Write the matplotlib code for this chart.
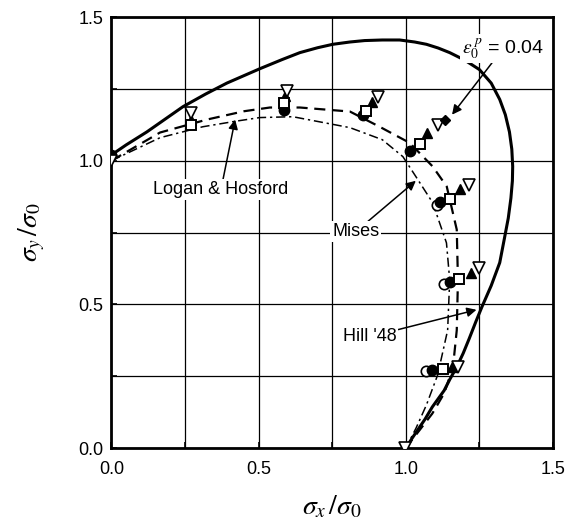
import matplotlib
matplotlib.use("Agg")
import matplotlib.pyplot as plt
from matplotlib.ticker import MultipleLocator

plt.rcParams['font.family'] = ['Liberation Sans', 'DejaVu Sans']
plt.rcParams['mathtext.fontset'] = 'stix'

# Yield loci (sigma_x/sigma_0, sigma_y/sigma_0)
hill_x = [0.0, 0.05, 0.12, 0.243, 0.32, 0.392, 0.504, 0.58, 0.64, 0.70, 0.752, 0.81,
          0.86, 0.92, 0.979, 1.03, 1.07, 1.11, 1.149, 1.20, 1.25, 1.29, 1.319, 1.338,
          1.352, 1.36, 1.363, 1.362, 1.357, 1.348, 1.335, 1.319, 1.29, 1.258, 1.238,
          1.215, 1.195, 1.173, 1.15, 1.13, 1.09, 1.065, 1.045, 1.02, 1.0]
hill_y = [1.02, 1.055, 1.10, 1.188, 1.232, 1.27, 1.32, 1.352, 1.376, 1.393, 1.405, 1.413,
          1.418, 1.42, 1.42, 1.413, 1.405, 1.392, 1.376, 1.35, 1.317, 1.27, 1.213, 1.16,
          1.10, 1.04, 0.98, 0.93, 0.87, 0.80, 0.73, 0.645, 0.565, 0.49, 0.44,
          0.38, 0.33, 0.282, 0.24, 0.20, 0.143, 0.10, 0.07, 0.032, 0.0]

mises_x = [0.0, 0.165, 0.324, 0.45, 0.538, 0.64, 0.81, 0.911, 1.013, 1.091, 1.139,
           1.173, 1.177, 1.173, 1.16, 1.13, 1.09, 1.045, 1.0]
mises_y = [1.0, 1.098, 1.143, 1.172, 1.185, 1.185, 1.171, 1.118, 1.062, 0.98, 0.91,
           0.76, 0.585, 0.41, 0.28, 0.19, 0.12, 0.06, 0.0]

lh_x = [0.0, 0.165, 0.31, 0.42, 0.504, 0.616, 0.81, 0.92, 0.99, 1.037, 1.091, 1.138,
        1.149, 1.142, 1.108, 1.07, 1.035, 1.0]
lh_y = [1.0, 1.08, 1.118, 1.137, 1.15, 1.153, 1.115, 1.073, 1.014, 0.94, 0.854, 0.714,
        0.585, 0.41, 0.254, 0.15, 0.07, 0.0]

# Measured yield points
open_circle_x = [1.105, 1.129, 1.07]
open_circle_y = [0.847, 0.571, 0.268]

filled_circle_x = [0.0, 0.585, 0.854, 1.013, 1.115, 1.149, 1.09]
filled_circle_y = [1.02, 1.178, 1.16, 1.035, 0.857, 0.578, 0.27]

square_x = [0.27, 0.586, 0.864, 1.047, 1.149, 1.18, 1.125]
square_y = [1.125, 1.20, 1.174, 1.059, 0.868, 0.589, 0.275]

tri_up_x = [0.27, 0.59, 0.885, 1.071, 1.183, 1.22, 1.156]
tri_up_y = [1.143, 1.226, 1.205, 1.098, 0.902, 0.61, 0.282]

tri_down_x = [0.0, 0.27, 0.596, 0.905, 1.108, 1.214, 1.25, 1.176, 0.996]
tri_down_y = [1.0, 1.167, 1.244, 1.22, 1.125, 0.916, 0.627, 0.282, 0.0]

diamond_x = [1.132]
diamond_y = [1.143]

tick_vals = [0.0, 0.5, 1.0, 1.5]
tick_text = ['0.0', '0.5', '1.0', '1.5']

fig = plt.figure(figsize=(5.70, 5.28), dpi=100)
ax = fig.add_axes([0.1956, 0.1515, 0.7746, 0.8163])

ax.set_xlim(0, 1.5)
ax.set_ylim(0, 1.5)
ax.set_xticks(tick_vals)
ax.set_yticks(tick_vals)
ax.set_xticklabels(tick_text)
ax.set_yticklabels(tick_text)
ax.xaxis.set_minor_locator(MultipleLocator(0.25))
ax.yaxis.set_minor_locator(MultipleLocator(0.25))
ax.grid(True, which='both', color='black', linewidth=0.9, zorder=0)
ax.set_axisbelow(True)
for s in ax.spines.values():
    s.set_linewidth(2.0)
ax.tick_params(which='both', direction='in', length=4, width=1.2, labelsize=13,
               top=False, right=False)
ax.tick_params(axis='x', pad=9)
ax.tick_params(axis='y', pad=6)

ax.plot(hill_x, hill_y, color='black', lw=2.2, solid_capstyle='round',
        solid_joinstyle='round', zorder=3)
ax.plot(mises_x, mises_y, color='black', lw=1.6, dashes=(5, 3), zorder=3)
ax.plot(lh_x, lh_y, color='black', lw=1.1, dashes=(6, 2.5, 1.5, 2.5), zorder=3)

ms = 7.5
ax.plot(open_circle_x, open_circle_y, 'o', ms=ms, mfc='white', mec='black', mew=1.2, zorder=4)
ax.plot(filled_circle_x, filled_circle_y, 'o', ms=ms, mfc='black', mec='black', zorder=4)
ax.plot(tri_up_x, tri_up_y, '^', ms=ms, mfc='black', mec='black', zorder=5)
ax.plot(square_x, square_y, 's', ms=ms, mfc='white', mec='black', mew=1.4, zorder=5)
ax.plot(tri_down_x, tri_down_y, 'v', ms=ms + 1, mfc='white', mec='black', mew=1.2, zorder=6)
ax.plot(diamond_x, diamond_y, 'D', ms=ms - 2, mfc='black', mec='black', zorder=6)

arrow = dict(arrowstyle='-|>', color='black', lw=1.1, mutation_scale=14, shrinkA=0, shrinkB=0)
box = dict(boxstyle='square,pad=0.1', fc='white', ec='none')

ax.annotate('Logan & Hosford', xy=(0.42, 1.143), xytext=(0.372, 0.90),
            ha='center', va='center', fontsize=13, arrowprops=arrow, bbox=box, zorder=7)
ax.annotate('Mises', xy=(1.034, 0.93), xytext=(0.83, 0.753),
            ha='center', va='center', fontsize=13, arrowprops=arrow, bbox=box, zorder=7)
ax.annotate("Hill '48", xy=(1.24, 0.481), xytext=(0.877, 0.387),
            ha='center', va='center', fontsize=13, arrowprops=arrow, bbox=box, zorder=7)
ax.annotate(r'$\varepsilon_0^{\;p}$' + ' = 0.04', xy=(1.157, 1.16), xytext=(1.33, 1.39),
            ha='center', va='center', fontsize=14, arrowprops=arrow, bbox=box, zorder=7)

ax.set_xlabel(r'$\sigma_x\,/\sigma_0$', fontsize=20, labelpad=12)
ax.set_ylabel(r'$\sigma_y\,/\sigma_0$', fontsize=20, labelpad=22)

fig.savefig('out.png', dpi=100)
